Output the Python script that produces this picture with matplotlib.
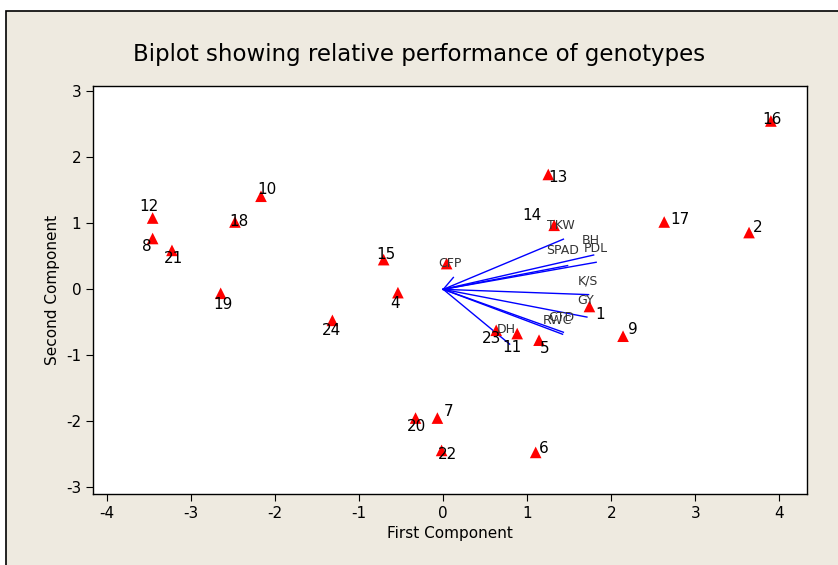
import matplotlib
matplotlib.use("Agg")
import matplotlib.pyplot as plt
from matplotlib.patches import Rectangle

plt.rcParams["axes.unicode_minus"] = False

# genotype scores (first, second component)
genotypes = ["1", "2", "3", "4", "5", "6", "7", "8", "9", "10", "11", "12",
             "13", "14", "15", "16", "17", "18", "19", "20", "21", "22", "23", "24"]
pc1 = [1.74, 3.64, 0.04, -0.54, 1.14, 1.10, -0.07, -3.46, 2.14, -2.17, 0.88, -3.46,
       1.25, 1.32, -0.71, 3.90, 2.63, -2.48, -2.65, -0.33, -3.23, -0.02, 0.63, -1.32]
pc2 = [-0.26, 0.86, 0.39, -0.05, -0.77, -2.47, -1.95, 0.77, -0.71, 1.41, -0.67, 1.08,
       1.74, 0.97, 0.45, 2.55, 1.02, 1.02, -0.06, -1.95, 0.59, -2.44, -0.62, -0.47]
# label offsets in points (dx, dy); None -> label hidden under a trait name
label_off = [(8, -6), (6, 4), None, (-2, -8), (4, -6), (6, 3), (8, 5), (-4, -6),
             (7, 5), (4, 5), (-4, -10), (-3, 8), (7, -2), (-16, 7), (2, 4), (1, 1),
             (11, 2), (3, 0), (2, -8), (1, -6), (1, -6), (4, -3), (-3, -6), (-1, -7)]

# trait loadings
traits = ["TKW", "BH", "PDL", "SPAD", "CFP", "K/S", "GY", "CTD", "RWC", "DH"]
load1 = [1.43, 1.79, 1.82, 1.48, 0.12, 1.73, 1.71, 1.43, 1.42, 0.79]
load2 = [0.76, 0.52, 0.41, 0.36, 0.18, -0.08, -0.42, -0.65, -0.68, -0.83]
trait_pos = [(1.23, 0.97), (1.65, 0.74), (1.67, 0.62), (1.23, 0.59), (-0.06, 0.39),
             (1.60, 0.12), (1.60, -0.17), (1.25, -0.42), (1.19, -0.47), (0.64, -0.61)]

fig = plt.figure(figsize=(8.38, 5.65), dpi=100, facecolor="white")
fig.patches.append(Rectangle((6 / 838, -0.05), 1.0, (565 - 11) / 565 + 0.05,
                             transform=fig.transFigure, facecolor="#EEEAE0",
                             edgecolor="black", linewidth=1.2, zorder=-5))

ax = fig.add_axes([93 / 838, (565 - 494) / 565, (807 - 93) / 838, (494 - 86) / 565])
ax.set_facecolor("white")

for x, y in zip(load1, load2):
    ax.plot([0, x], [0, y], color="blue", linewidth=1.0, zorder=2)
for name, (tx, ty) in zip(traits, trait_pos):
    ax.text(tx, ty, name, fontsize=9, color="#333333", va="center", ha="left", zorder=4)

ax.scatter(pc1, pc2, marker="^", s=70, color="red", edgecolors="none", zorder=3)
for g, x, y, off in zip(genotypes, pc1, pc2, label_off):
    if off is None:
        continue
    ax.annotate(g, (x, y), xytext=off, textcoords="offset points",
                ha="center", va="center", fontsize=11, color="black", zorder=5)

ax.set_xlim(-4.17, 4.33)
ax.set_ylim(-3.1, 3.08)
ax.set_xticks(range(-4, 5))
ax.set_yticks(range(-3, 4))
ax.tick_params(direction="out", length=5, labelsize=11)
for s in ax.spines.values():
    s.set_linewidth(1.0)

ax.set_xlabel("First Component", fontsize=11)
ax.set_ylabel("Second Component", fontsize=11)
fig.text(0.5, (565 - 54) / 565, "Biplot showing relative performance of genotypes",
         ha="center", va="center", fontsize=16.5)

fig.savefig("out.png", dpi=100, facecolor=fig.get_facecolor())
